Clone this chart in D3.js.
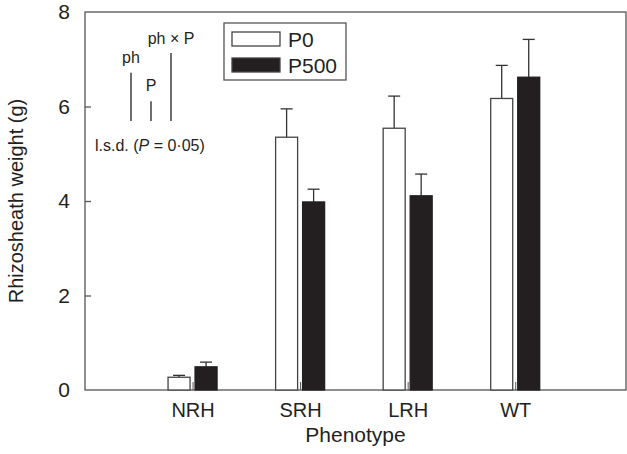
<!DOCTYPE html>
<html>
<head>
<meta charset="utf-8">
<script src="https://cdn.jsdelivr.net/npm/d3@7"></script>
<style>
  body { margin: 0; background: #fff; }
  text { font-family: "Liberation Sans", Arial, Helvetica, sans-serif; fill: #231f20; }
</style>
</head>
<body>
<svg id="chart" width="627" height="454"></svg>
<script>
// Chart data
const phenotypes = ['NRH', 'SRH', 'LRH', 'WT'];
const p0Values = [0.27, 5.35, 5.54, 6.17];
const p0Errors = [0.04, 0.60, 0.68, 0.70];
const p500Values = [0.49, 3.98, 4.11, 6.62];
const p500Errors = [0.10, 0.27, 0.46, 0.80];
const seriesNames = ['P0', 'P500'];
const yTicks = [0, 2, 4, 6, 8];
// l.s.d. bars (P = 0.05)
const lsdLabels = ['ph', 'P', 'ph × P'];
const lsdValues = [1.02, 0.42, 1.44];

const svg = d3.select('#chart');
const ink = '#231f20';
const frame = '#555';

const margin = { left: 85, right: 1, top: 12, bottom: 64 };
const width = 627, height = 454;

// Scales
const x = d3.scaleLinear().domain([0, 5.03]).range([margin.left, width - margin.right]);
const y = d3.scaleLinear().domain([0, 8]).range([height - margin.bottom, margin.top]);

const barW = 22;
const gapHalf = 2.5;
const fontFam = '"Liberation Sans", Arial, sans-serif';

// Plot frame
svg.append('rect')
  .attr('x', x(0)).attr('y', y(8))
  .attr('width', x(5.03) - x(0)).attr('height', y(0) - y(8))
  .attr('fill', 'none').attr('stroke', frame).attr('stroke-width', 1.3);

// Y axis (ticks inward)
const yAxis = d3.axisLeft(y).tickValues(yTicks).tickSize(-6).tickPadding(15).tickFormat(d3.format('d'));
const gy = svg.append('g').attr('transform', `translate(${x(0)},0)`).call(yAxis);
gy.select('.domain').remove();
gy.selectAll('.tick line').attr('stroke', frame).attr('stroke-width', 1.3)
  .filter(d => d === 0 || d === 8).remove();
gy.selectAll('.tick text').attr('font-size', 21).style('font-family', fontFam).attr('fill', ink);

// X axis (ticks inward)
const xAxis = d3.axisBottom(x).tickValues([1, 2, 3, 4]).tickSize(-8).tickPadding(13)
  .tickFormat((d, i) => phenotypes[i]);
const gx = svg.append('g').attr('transform', `translate(0,${y(0)})`).call(xAxis);
gx.select('.domain').remove();
gx.selectAll('.tick line').attr('stroke', frame).attr('stroke-width', 1);
gx.selectAll('.tick text').attr('font-size', 20).style('font-family', fontFam).attr('fill', ink);

// Bars
const rows = phenotypes.map((p, i) => ({ i: i + 1, p0: p0Values[i], e0: p0Errors[i], p5: p500Values[i], e5: p500Errors[i] }));

const g = svg.append('g');
rows.forEach(d => {
  const cx = x(d.i);
  const bars = [
    { x0: cx - gapHalf - barW, v: d.p0, e: d.e0, fill: '#fff' },
    { x0: cx + gapHalf, v: d.p5, e: d.e5, fill: ink }
  ];
  bars.forEach(b => {
    const mid = b.x0 + barW / 2;
    g.append('line')
      .attr('x1', mid).attr('x2', mid)
      .attr('y1', y(b.v)).attr('y2', y(b.v + b.e))
      .attr('stroke', '#333').attr('stroke-width', 1.3);
    g.append('line')
      .attr('x1', mid - 6).attr('x2', mid + 6)
      .attr('y1', y(b.v + b.e)).attr('y2', y(b.v + b.e))
      .attr('stroke', '#333').attr('stroke-width', 1.3);
    g.append('rect')
      .attr('x', b.x0).attr('y', y(b.v))
      .attr('width', barW).attr('height', y(0) - y(b.v))
      .attr('fill', b.fill).attr('stroke', b.fill === '#fff' ? '#444' : ink).attr('stroke-width', 1.3);
  });
});

// l.s.d. bars
const lsdX = [131, 151, 171];
const lsdBase = 121;
const unit = y(0) - y(1);
const lsdLabelGap = [10, 10, 9];
lsdValues.forEach((v, i) => {
  svg.append('line')
    .attr('x1', lsdX[i]).attr('x2', lsdX[i])
    .attr('y1', lsdBase).attr('y2', lsdBase - v * unit)
    .attr('stroke', ink).attr('stroke-width', 1.3);
  svg.append('text')
    .attr('x', lsdX[i]).attr('y', lsdBase - v * unit - lsdLabelGap[i])
    .attr('text-anchor', 'middle').attr('font-size', 16)
    .text(lsdLabels[i]);
});
const lsdText = svg.append('text').attr('x', 95).attr('y', 151).attr('font-size', 16);
lsdText.append('tspan').text('l.s.d. (');
lsdText.append('tspan').attr('font-style', 'italic').text('P');
lsdText.append('tspan').text(' = 0·05)');

// Legend
const legend = svg.append('g');
legend.append('rect')
  .attr('x', 224).attr('y', 23).attr('width', 122).attr('height', 57)
  .attr('fill', '#fff').attr('stroke', frame).attr('stroke-width', 1.3);
seriesNames.forEach((s, i) => {
  legend.append('rect')
    .attr('x', 232).attr('y', 32 + i * 26).attr('width', 48).attr('height', 14)
    .attr('fill', i === 0 ? '#fff' : ink).attr('stroke', '#444').attr('stroke-width', 1.3);
  legend.append('text')
    .attr('x', 288).attr('y', 47 + i * 26).attr('font-size', 21)
    .text(s);
});

// Axis titles
svg.append('text')
  .attr('x', (x(0) + x(5.03)) / 2).attr('y', 442)
  .attr('text-anchor', 'middle').attr('font-size', 21)
  .text('Phenotype');
svg.append('text')
  .attr('transform', `translate(23,${(y(0) + y(8)) / 2}) rotate(-90)`)
  .attr('text-anchor', 'middle').attr('font-size', 20)
  .text('Rhizosheath weight (g)');
</script>
</body>
</html>
